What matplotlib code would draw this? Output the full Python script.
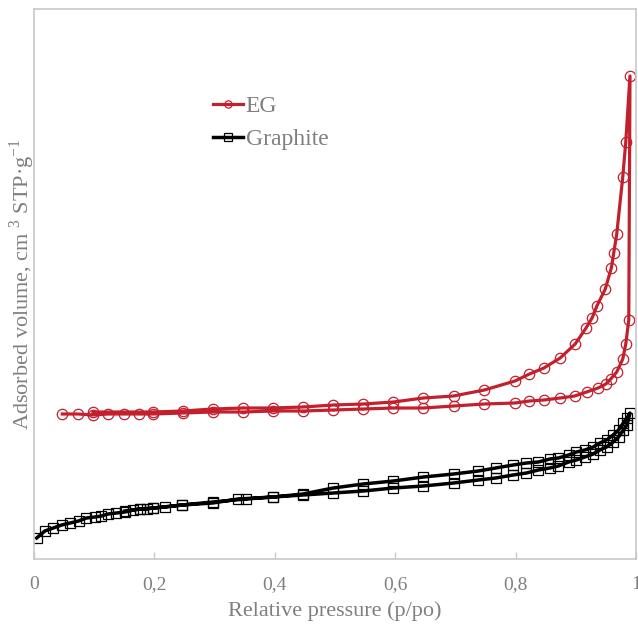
import matplotlib
matplotlib.use('Agg')
import matplotlib.pyplot as plt

plt.rcParams['font.family'] = ['Liberation Serif', 'DejaVu Serif']
plt.rcParams['mathtext.fontset'] = 'custom'
plt.rcParams['mathtext.rm'] = 'Liberation Serif'

# EG: adsorption (up) then desorption (back down)
eg_p_ads = [0.047, 0.073, 0.098, 0.123, 0.150, 0.174, 0.198, 0.247, 0.297, 0.347,
            0.397, 0.447, 0.497, 0.547, 0.597, 0.647, 0.697, 0.748, 0.799, 0.823,
            0.847, 0.874, 0.898, 0.918, 0.937, 0.950, 0.958, 0.968, 0.978, 0.983,
            0.988, 0.990]
eg_v_ads = [145, 145, 144, 145, 145, 145, 145, 146, 147, 147,
            148, 148, 149, 150, 151, 151, 153, 155, 156, 158,
            159, 161, 163, 167, 171, 175, 180, 187, 200, 215,
            239, 483]
eg_p_des = [0.983, 0.978, 0.968, 0.963, 0.959, 0.949, 0.935, 0.927, 0.917, 0.899,
            0.874, 0.847, 0.823, 0.799, 0.748, 0.697, 0.647, 0.597, 0.547, 0.497,
            0.447, 0.397, 0.347, 0.297, 0.247, 0.198, 0.098]
eg_v_des = [417, 382, 325, 306, 291, 270, 253, 241, 231, 215,
            201, 191, 185, 178, 169, 163, 161, 157, 155, 154,
            152, 151, 151, 150, 148, 147, 147]

# Graphite
gr_p_ads = [0.0045, 0.018, 0.032, 0.046, 0.060, 0.074, 0.087, 0.101, 0.112, 0.123,
            0.137, 0.151, 0.165, 0.176, 0.187, 0.198, 0.218, 0.246, 0.297, 0.339,
            0.397, 0.447, 0.497, 0.547, 0.597, 0.647, 0.697, 0.738, 0.767, 0.796,
            0.818, 0.838, 0.857, 0.871, 0.888, 0.901, 0.915, 0.929, 0.940, 0.951,
            0.962, 0.971, 0.979, 0.985, 0.990]
gr_v_ads = [21, 28, 31, 34, 36, 38, 41, 42, 43, 45,
            46, 47, 49, 50, 50, 51, 52, 54, 56, 60,
            62, 64, 66, 68, 71, 73, 76, 79, 81, 84,
            86, 89, 91, 93, 97, 99, 102, 105, 109, 112,
            117, 122, 129, 134, 146]
gr_p_des = [0.985, 0.979, 0.971, 0.962, 0.951, 0.940, 0.929, 0.915, 0.901, 0.888,
            0.871, 0.857, 0.838, 0.818, 0.796, 0.767, 0.738, 0.697, 0.647, 0.597,
            0.547, 0.497, 0.447, 0.397, 0.352, 0.297, 0.246, 0.198, 0.176, 0.151]
gr_v_des = [141, 136, 129, 124, 119, 116, 112, 109, 107, 104,
            101, 100, 97, 96, 94, 91, 88, 85, 82, 78,
            75, 71, 65, 62, 60, 57, 54, 51, 50, 48]

red = '#C3202D'
grey_txt = '#7F7F7F'
grey_ax = '#C8C8C8'

fig = plt.figure(figsize=(6.38, 6.28), dpi=100)
ax = fig.add_axes([34 / 638, 69 / 628, 602 / 638, 550 / 628])

ax.plot(eg_p_ads + eg_p_des, eg_v_ads + eg_v_des, color=red, lw=2.3,
        marker='o', ms=7.5, mfc='none', mec=red, mew=0.9, label='EG')
ax.plot(gr_p_ads + gr_p_des, gr_v_ads + gr_v_des, color='black', lw=2.5,
        marker='s', ms=7.5, mfc='none', mec='black', mew=0.9, label='Graphite')

ax.set_xlim(0, 1)
ax.set_ylim(0, 550)
ax.set_xticks([0, 0.2, 0.4, 0.6, 0.8, 1])
ax.set_xticklabels(['0', '0,2', '0,4', '0,6', '0,8', '1'])
ax.set_yticks([])
ax.tick_params(axis='x', direction='in', length=5, width=1, color=grey_ax,
               labelcolor=grey_txt, labelsize=14, pad=12)
for s in ax.spines.values():
    s.set_color(grey_ax)
    s.set_linewidth(1.2)

ax.set_xlabel('Relative pressure (p/po)', fontsize=16, color=grey_txt, labelpad=6)
ax.set_ylabel(r'Adsorbed volume, cm $^{3}$ STP·g$^{-1}$', fontsize=16,
              color=grey_txt, labelpad=-2)

leg = ax.legend(loc='upper left', bbox_to_anchor=(0.297, 0.843), frameon=False,
                fontsize=17, handlelength=1.3, handletextpad=0.1,
                labelspacing=0.5, markerscale=0.7, borderpad=0, borderaxespad=0)
for t in leg.get_texts():
    t.set_color(grey_txt)

plt.savefig('out.png', dpi=100)
